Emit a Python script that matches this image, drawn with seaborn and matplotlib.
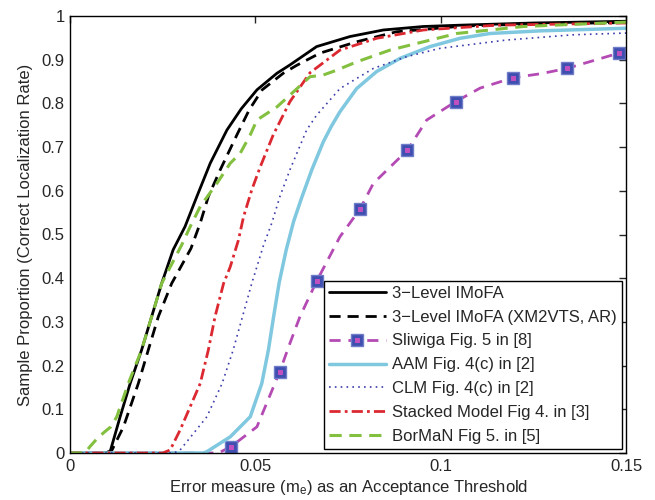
import numpy as np
import matplotlib
matplotlib.use("Agg")
import matplotlib.pyplot as plt
from matplotlib.legend_handler import HandlerTuple
import seaborn as sns

# --- data (x: error threshold, y: proportion) ---
imofa_x = [0, 0.009, 0.0108, 0.0135, 0.0162, 0.0193, 0.022, 0.0247, 0.0278, 0.031, 0.0342, 0.0378,
           0.0423, 0.0462, 0.0504, 0.0558, 0.0593, 0.0665, 0.0755, 0.0845, 0.0953, 0.1052, 0.125, 0.15]
imofa_y = [0, 0, 0.003, 0.083, 0.159, 0.236, 0.312, 0.388, 0.465, 0.518, 0.587, 0.663,
           0.739, 0.788, 0.831, 0.869, 0.888, 0.93, 0.953, 0.968, 0.976, 0.979, 0.984, 0.988]

imofa_xm_x = [0, 0.0095, 0.0112, 0.0144, 0.0184, 0.0211, 0.0238, 0.0274, 0.0326, 0.0351, 0.0373,
              0.0405, 0.045, 0.0483, 0.0518, 0.0575, 0.0611, 0.0674, 0.0773, 0.0881, 0.106, 0.125, 0.15]
imofa_xm_y = [0, 0, 0.005, 0.06, 0.159, 0.236, 0.312, 0.388, 0.468, 0.526, 0.587,
              0.648, 0.728, 0.785, 0.831, 0.869, 0.887, 0.915, 0.941, 0.964, 0.977, 0.982, 0.985]

sliwiga_x = [0, 0.04, 0.0434, 0.0504, 0.0565, 0.0593, 0.062, 0.0665, 0.0728, 0.0782, 0.0818,
             0.091, 0.0962, 0.104, 0.1106, 0.1196, 0.127, 0.134, 0.142, 0.148, 0.15]
sliwiga_y = [0, 0, 0.0145, 0.06, 0.185, 0.251, 0.312, 0.393, 0.495, 0.558, 0.617,
             0.693, 0.762, 0.804, 0.835, 0.859, 0.868, 0.88, 0.9, 0.915, 0.92]
sliwiga_mx = [0.0434, 0.0565, 0.0665, 0.0782, 0.091, 0.104, 0.1196, 0.134, 0.148]
sliwiga_my = [0.0145, 0.185, 0.393, 0.558, 0.693, 0.804, 0.859, 0.88, 0.915]

aam_x = [0, 0.036, 0.0369, 0.0432, 0.0486, 0.0517, 0.0535, 0.0549, 0.0564, 0.0583, 0.0603, 0.0625,
         0.0652, 0.0683, 0.0705, 0.0728, 0.0773, 0.0827, 0.089, 0.0971, 0.1052, 0.1133, 0.1268, 0.15]
aam_y = [0, 0, 0.003, 0.037, 0.083, 0.159, 0.236, 0.312, 0.39, 0.465, 0.53, 0.585,
         0.648, 0.712, 0.748, 0.781, 0.834, 0.873, 0.903, 0.93, 0.949, 0.96, 0.966, 0.972]

clm_x = [0, 0.028, 0.0297, 0.0369, 0.041, 0.044, 0.0465, 0.049, 0.0522, 0.0544, 0.0566, 0.0593,
         0.0638, 0.0665, 0.0728, 0.0818, 0.0908, 0.0998, 0.1177, 0.1357, 0.15]
clm_y = [0, 0, 0.007, 0.083, 0.159, 0.236, 0.312, 0.388, 0.476, 0.526, 0.587, 0.648,
         0.739, 0.773, 0.834, 0.88, 0.907, 0.926, 0.945, 0.957, 0.961]

stacked_x = [0, 0.025, 0.027, 0.0297, 0.0351, 0.0373, 0.0391, 0.0414, 0.0432, 0.0454, 0.0468,
             0.049, 0.0513, 0.0548, 0.0593, 0.0647, 0.0728, 0.0827, 0.0953, 0.115, 0.15]
stacked_y = [0, 0, 0.007, 0.053, 0.159, 0.236, 0.312, 0.388, 0.426, 0.487, 0.541,
             0.602, 0.655, 0.728, 0.804, 0.87, 0.922, 0.949, 0.968, 0.979, 0.984]

borman_x = [0, 0.004, 0.0054, 0.0075, 0.0094, 0.011, 0.0126, 0.0157, 0.0193, 0.022, 0.0247,
            0.0301, 0.0324, 0.0351, 0.0396, 0.0432, 0.0459, 0.0486, 0.0504, 0.0558, 0.0593,
            0.0647, 0.0683, 0.0719, 0.0773, 0.0863, 0.0953, 0.1043, 0.1088, 0.1223, 0.15]
borman_y = [0, 0, 0.015, 0.035, 0.049, 0.06, 0.083, 0.159, 0.236, 0.312, 0.388,
            0.476, 0.518, 0.564, 0.617, 0.663, 0.686, 0.728, 0.762, 0.792, 0.819,
            0.861, 0.865, 0.876, 0.895, 0.922, 0.941, 0.96, 0.964, 0.976, 0.986]

labels = ["3\u2212Level IMoFA", "3\u2212Level IMoFA (XM2VTS, AR)", "Sliwiga Fig. 5 in [8]",
          "AAM Fig. 4(c) in [2]", "CLM Fig. 4(c) in [2]", "Stacked Model Fig 4. in [3]",
          "BorMaN Fig 5. in [5]"]

sns.set_style("white")
plt.rcParams["font.family"] = ["Liberation Sans", "DejaVu Sans"]
plt.rcParams["mathtext.default"] = "regular"
plt.rcParams["font.size"] = 12

fig = plt.figure(figsize=(6.55, 5), dpi=100)
ax = fig.add_axes([0.107, 0.094, 0.849, 0.874])

sns.lineplot(x=imofa_x, y=imofa_y, ax=ax, color="black", linewidth=2.0, sort=False)
sns.lineplot(x=imofa_xm_x, y=imofa_xm_y, ax=ax, color="black", linewidth=2.0,
             linestyle=(0, (4, 2.5)), sort=False)
sns.lineplot(x=sliwiga_x, y=sliwiga_y, ax=ax, color="#b44ab4", linewidth=2.0,
             linestyle=(0, (4, 2.8)), sort=False)
sns.lineplot(x=sliwiga_mx, y=sliwiga_my, ax=ax, color="#b44ab4", linestyle="none",
             marker="s", markersize=8, markerfacecolor="#3f4fb0",
             markeredgecolor="#6f7cc8", markeredgewidth=1, sort=False)
sns.lineplot(x=sliwiga_mx, y=sliwiga_my, ax=ax, color="#b44ab4", linestyle="none",
             marker="s", markersize=3, markerfacecolor="#c050c0",
             markeredgecolor="#c050c0", sort=False)
sns.lineplot(x=aam_x, y=aam_y, ax=ax, color="#80c8df", linewidth=2.5, sort=False)
sns.lineplot(x=clm_x, y=clm_y, ax=ax, color="#3c3caa", linewidth=1.2,
             linestyle=(0, (1, 2.5)), sort=False)
sns.lineplot(x=stacked_x, y=stacked_y, ax=ax, color="#dc2830", linewidth=2.0,
             linestyle=(0, (4, 1.5, 1, 1.5)), sort=False)
sns.lineplot(x=borman_x, y=borman_y, ax=ax, color="#84c040", linewidth=2.2,
             linestyle=(0, (4, 2.5)), sort=False)

lines = ax.get_lines()
handles = [lines[0], lines[1], (lines[2], lines[3], lines[4]), lines[5], lines[6], lines[7], lines[8]]
leg = ax.legend(handles, labels, loc="lower right", fontsize=12, handlelength=3.4,
                handletextpad=0.4, labelspacing=0.53, borderpad=0.3, borderaxespad=0.25,
                fancybox=False, framealpha=1, edgecolor="black",
                handler_map={tuple: HandlerTuple(ndivide=1, pad=0)})
leg.get_frame().set_linewidth(1.0)

ax.set_xlim(0, 0.15)
ax.set_ylim(0, 1)
ax.set_xticks([0, 0.05, 0.1, 0.15])
ax.set_xticklabels(["0", "0.05", "0.1", "0.15"])
ax.set_yticks(np.arange(0, 1.01, 0.1))
ax.set_yticklabels(["0", "0.1", "0.2", "0.3", "0.4", "0.5", "0.6", "0.7", "0.8", "0.9", "1"])
ax.tick_params(direction="in", top=True, right=True, length=5, width=1, labelsize=12, pad=4)
for s in ax.spines.values():
    s.set_visible(True)
    s.set_color("black")
    s.set_linewidth(1.0)

ax.set_xlabel("Error measure (m$_e$) as an Acceptance Threshold", fontsize=12, labelpad=3)
ax.set_ylabel("Sample Proportion (Correct Localization Rate)", fontsize=12, labelpad=6)

fig.savefig("out.png", dpi=100)
